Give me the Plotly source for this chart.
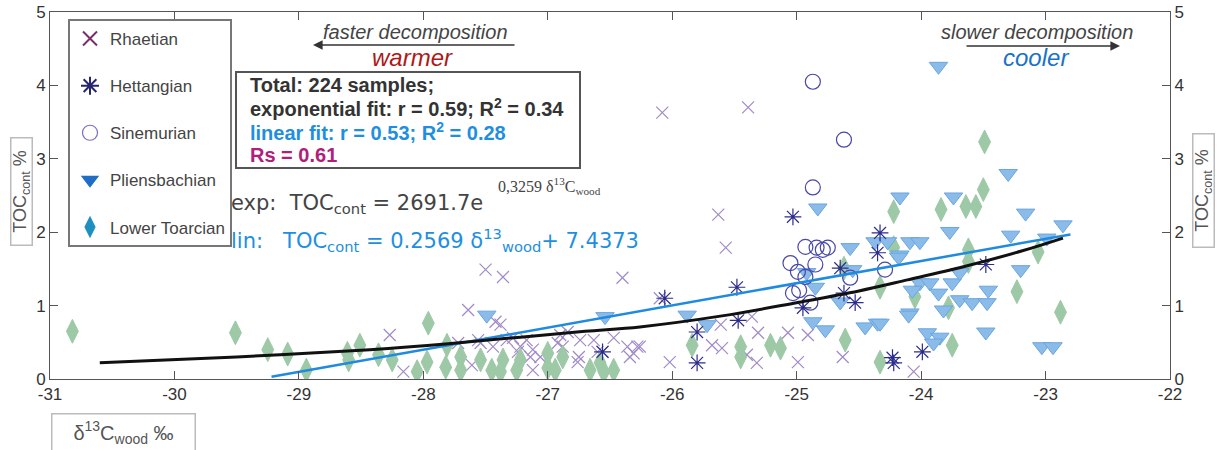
import plotly.graph_objects as go

# ---------------- data ----------------
rha_x = [-26.08, -25.39, -25.63, -25.57, -26.10, -25.36, -25.61, -25.31, -25.07, -24.91, -25.68, -25.60,
         -25.40, -25.32, -26.02, -24.99, -24.63, -26.26, -24.06, -27.50, -27.36, -27.64, -28.27, -26.40,
         -27.42, -27.38, -27.56, -27.44, -27.33, -27.28, -27.22, -27.17, -27.12, -27.14, -27.06, -26.92,
         -26.88, -26.90, -26.84, -26.74, -26.75, -26.63, -26.47, -26.36, -26.31, -26.28, -26.76, -26.56,
         -27.12, -28.16, -27.72, -27.61, -27.54, -27.24, -26.60, -26.34]
rha_y = [3.63, 3.70, 2.24, 1.79, 1.10, 0.85, 0.74, 0.63, 0.63, 0.60, 0.46, 0.42,
         0.33, 0.22, 0.23, 0.23, 0.30, 0.44, 0.10, 1.49, 1.39, 0.94, 0.60, 1.38,
         0.78, 0.74, 0.53, 0.44, 0.53, 0.56, 0.44, 0.53, 0.40, 0.30, 0.30, 0.49,
         0.44, 0.60, 0.64, 0.53, 0.30, 0.53, 0.56, 0.44, 0.35, 0.44, 0.23, 0.37,
         0.12, 0.10, 0.49, 0.19, 0.49, 0.37, 0.37, 0.30]

het_x = [-26.56, -26.06, -25.80, -25.80, -25.48, -25.47, -25.03, -24.95, -24.62, -24.65, -24.53, -24.33,
         -24.35, -24.23, -24.22, -23.99, -23.48]
het_y = [0.37, 1.10, 0.64, 0.22, 1.25, 0.80, 2.21, 0.97, 1.17, 1.51, 1.04, 1.99,
         1.72, 0.29, 0.22, 0.37, 1.56]

sin_x = [-24.87, -24.62, -24.87, -24.93, -24.84, -24.79, -24.75, -25.05, -24.99, -24.85, -24.93, -25.03,
         -24.98, -24.89, -24.57, -24.29]
sin_y = [4.05, 3.26, 2.61, 1.80, 1.79, 1.76, 1.79, 1.58, 1.46, 1.56, 1.39, 1.17,
         1.21, 1.04, 1.38, 1.49]

pli_x = [-23.86, -27.49, -26.54, -25.88, -25.72, -24.83, -24.92, -24.85, -24.87, -24.77, -24.65, -24.57,
         -24.55, -24.45, -24.35, -24.37, -24.27, -24.17, -24.09, -24.01, -24.17, -24.09, -24.01, -23.93,
         -23.95, -23.85, -23.86, -23.77, -23.74, -23.75, -23.69, -23.69, -23.30, -23.16, -22.86, -22.99,
         -23.28, -24.07, -24.10, -23.82, -23.59, -23.47, -23.46, -23.20, -23.48, -23.90, -23.03, -22.94,
         -24.33, -24.18]
pli_y = [4.26, 0.87, 0.85, 0.87, 0.74, 2.33, 1.45, 1.25, 0.78, 0.67, 1.05, 1.79,
         1.49, 0.71, 0.76, 1.87, 1.87, 2.48, 1.87, 1.87, 1.69, 0.90, 1.31, 1.31,
         0.63, 0.57, 1.17, 2.01, 2.48, 1.31, 1.45, 1.08, 2.80, 2.26, 2.10, 1.92,
         1.96, 1.21, 0.87, 0.94, 1.04, 1.04, 1.21, 1.49, 0.64, 0.49, 0.44, 0.44,
         0.76, 1.66]

toa_x = [-30.82, -29.51, -29.25, -29.09, -28.94, -28.61, -28.51, -28.60, -28.36, -28.25, -27.96, -28.05,
         -27.97, -27.81, -27.82, -27.70, -27.70, -27.54, -27.45, -27.36, -27.38, -27.25, -27.22, -27.00,
         -27.00, -26.94, -26.88, -26.66, -26.58, -26.55, -26.47, -25.84, -25.45, -25.45, -25.21, -25.13,
         -24.61, -24.33, -24.22, -24.22, -24.62, -24.33, -24.05, -23.78, -23.84, -23.64, -23.56, -23.50,
         -23.49, -23.62, -23.62, -23.75, -23.23, -23.06, -22.88]
toa_y = [0.65, 0.63, 0.40, 0.34, 0.12, 0.35, 0.46, 0.26, 0.33, 0.26, 0.76, 0.10,
         0.23, 0.46, 0.16, 0.30, 0.12, 0.26, 0.12, 0.26, 0.10, 0.12, 0.26, 0.35,
         0.15, 0.12, 0.30, 0.12, 0.22, 0.10, 0.12, 0.46, 0.44, 0.30, 0.46, 0.42,
         0.53, 0.23, 2.28, 1.79, 1.51, 1.25, 1.12, 0.97, 2.31, 2.35, 2.35, 2.58,
         3.23, 1.76, 1.60, 0.46, 1.19, 1.73, 0.91]

exp_fit_x = [-30.6, -29.5, -28.43, -27.8, -27.22, -26.7, -26.26, -25.6, -25.0, -24.5, -24.11, -23.66, -23.2, -22.86]
exp_fit_y = [0.22, 0.30, 0.40, 0.48, 0.57, 0.65, 0.71, 0.86, 1.04, 1.20, 1.35, 1.53, 1.74, 1.92]
lin_fit_x = [-29.22, -22.8]
lin_fit_y = [0.03, 1.97]

x_ticks = [-31, -30, -29, -28, -27, -26, -25, -24, -23, -22]
x_tick_labels = ["-31", "-30", "-29", "-28", "-27", "-26", "-25", "-24", "-23", "-22"]
y_ticks = [0, 1, 2, 3, 4, 5]
y_tick_labels = ["0", "1", "2", "3", "4", "5"]

# ---------------- figure ----------------
W, H = 1217, 450
L, R, T, B = 50, 47, 12, 71
PW, PH = W - L - R, H - T - B


def PX(p):
    return (p - L) / PW


def PY(p):
    return (H - B - p) / PH


FONT = "Liberation Sans, Arial, sans-serif"
NARROW = "Liberation Sans Narrow, Arial Narrow, Liberation Sans, Arial, sans-serif"
fig = go.Figure()

# data markers (no legend)
fig.add_trace(go.Scatter(x=rha_x, y=rha_y, mode="markers", showlegend=False,
                         marker=dict(symbol="x-thin", size=12, color="#a08ac8",
                                     line=dict(color="#a08ac8", width=1.2))))
fig.add_trace(go.Scatter(x=toa_x, y=toa_y, mode="markers", showlegend=False,
                         marker=dict(symbol="diamond-tall", size=17, color="#9dc9a6",
                                     line=dict(color="#9dc9a6", width=1))))
fig.add_trace(go.Scatter(x=pli_x, y=pli_y, mode="markers", showlegend=False,
                         marker=dict(symbol="triangle-down", size=16, color="#8bbbe8",
                                     line=dict(color="#6aa6e0", width=1))))
fig.add_trace(go.Scatter(x=sin_x, y=sin_y, mode="markers", showlegend=False,
                         marker=dict(symbol="circle-open", size=15, color="#4848a8",
                                     line=dict(color="#4848a8", width=1.2))))
fig.add_trace(go.Scatter(x=het_x, y=het_y, mode="markers", showlegend=False,
                         marker=dict(symbol="asterisk-open", size=14, color="#2c2c8c",
                                     line=dict(color="#2c2c8c", width=1.2))))

# fit lines
fig.add_trace(go.Scatter(x=lin_fit_x, y=lin_fit_y, mode="lines", showlegend=False,
                         line=dict(color="#1f8be0", width=2.5)))
fig.add_trace(go.Scatter(x=exp_fit_x, y=exp_fit_y, mode="lines", showlegend=False,
                         line=dict(color="#111111", width=3, shape="spline")))

# legend entries
leg = [("Rhaetian", dict(symbol="x-thin", size=14, color="#7a2e66", line=dict(color="#7a2e66", width=2))),
       ("Hettangian", dict(symbol="asterisk-open", size=15, color="#26266e", line=dict(color="#26266e", width=2))),
       ("Sinemurian", dict(symbol="circle-open", size=15, color="#7a70c8", line=dict(color="#7a70c8", width=1.2))),
       ("Pliensbachian", dict(symbol="triangle-down", size=16, color="#1f6dc4")),
       ("Lower Toarcian", dict(symbol="diamond-tall", size=16, color="#1e90c0"))]
for i, (name, mk) in enumerate(leg):
    fig.add_trace(go.Scatter(x=[None], y=[None], mode="markers", name=name, marker=mk,
                             legendgroup=f"g{i}"))

# dummy trace for right axis
fig.add_trace(go.Scatter(x=[None], y=[None], yaxis="y2", showlegend=False, hoverinfo="skip"))

axis_common = dict(showline=True, linecolor="#555", linewidth=1, ticks="inside", ticklen=8,
                   tickcolor="#555", tickfont=dict(family=NARROW, size=17, color="#333"),
                   showgrid=False, zeroline=False, automargin=False)
fig.update_layout(
    width=W, height=H, margin=dict(l=L, r=R, t=T, b=B, autoexpand=False),
    paper_bgcolor="white", plot_bgcolor="white",
    xaxis=dict(range=[-31, -22], tickvals=x_ticks, ticktext=x_tick_labels, mirror="ticks", **axis_common),
    yaxis=dict(range=[0, 5], tickvals=y_ticks, ticktext=y_tick_labels, mirror=True, **axis_common),
    yaxis2=dict(range=[0, 5], tickvals=y_ticks, ticktext=y_tick_labels, overlaying="y", side="right",
                **axis_common),
    legend=dict(x=PX(68), y=PY(19), xanchor="left", yanchor="top", bgcolor="white",
                bordercolor="#777", borderwidth=2, tracegroupgap=22, itemwidth=30,
                font=dict(family=FONT, size=17, color="#444")),
    showlegend=True,
)

ann = []


def text(px, py, s, size, color, anchor="left", family=FONT, **kw):
    ann.append(dict(x=PX(px), y=PY(py), xref="paper", yref="paper", text=s, showarrow=False,
                    xanchor=anchor, yanchor="middle", font=dict(family=family, size=size, color=color), **kw))


# statistics box
fig.add_shape(type="rect", xref="paper", yref="paper", x0=PX(236), x1=PX(580), y0=PY(168), y1=PY(72),
              line=dict(color="#555", width=2), fillcolor="rgba(0,0,0,0)")
text(248, 85, "<b>Total: 224 samples;</b>", 20, "#333")
text(248, 108, "<b>exponential fit: r = 0.59; R<sup>2</sup> = 0.34</b>", 20, "#333")
text(248, 131, "<b>linear fit: r = 0.53; R<sup>2</sup> = 0.28</b>", 20, "#1e8fe0")
text(248, 155, "<b>Rs = 0.61</b>", 20, "#b0207a")

# equations
text(229, 204, "exp:\u00a0\u00a0TOC<sub>cont</sub> = 2691.7e", 21, "#444", family="DejaVu Sans, Verdana, sans-serif")
text(496, 186, "0,3259 \u03b4<sup>13</sup>C<sub>wood</sub>", 16, "#444", family="Liberation Serif, Times New Roman, serif")
text(229, 240, "lin:\u00a0\u00a0\u00a0TOC<sub>cont</sub> = 0.2569 \u03b4<sup>13</sup><sub>wood</sub>+ 7.4373", 21, "#1e8fe0",
     family="DejaVu Sans, Verdana, sans-serif")

# decomposition arrows
text(415, 32, "<i>faster decomposition</i>", 20, "#444", anchor="center")
text(412, 58, "<i>warmer</i>", 24, "#b01818", anchor="center")
text(1037, 32, "<i>slower decomposition</i>", 20, "#444", anchor="center")
text(1036, 58, "<i>cooler</i>", 24, "#1a72c8", anchor="center")
ann.append(dict(x=PX(313), y=PY(45), ax=516 - 313, ay=0, xref="paper", yref="paper", axref="pixel",
                ayref="pixel", text="", showarrow=True, arrowhead=2, arrowsize=1.2, arrowwidth=1.6,
                arrowcolor="#333"))
ann.append(dict(x=PX(1120), y=PY(46), ax=965 - 1120, ay=0, xref="paper", yref="paper", axref="pixel",
                ayref="pixel", text="", showarrow=True, arrowhead=2, arrowsize=1.2, arrowwidth=1.6,
                arrowcolor="#333"))

# axis titles in boxes
ann.append(dict(x=PX(123), y=PY(432), xref="paper", yref="paper", showarrow=False,
                text="\u03b4<sup>13</sup>C<sub>wood</sub> \u2030", xanchor="center", yanchor="middle",
                font=dict(family=FONT, size=20, color="#555"), width=140, height=34,
                bordercolor="#bbb", borderwidth=1.5, bgcolor="white"))
ann.append(dict(x=PX(21), y=PY(192), xref="paper", yref="paper", showarrow=False, textangle=-90,
                text="TOC<sub>cont</sub> %", xanchor="center", yanchor="middle",
                font=dict(family=FONT, size=18, color="#555"), bordercolor="#bbb", borderwidth=1.5,
                width=104, height=18, bgcolor="white"))
ann.append(dict(x=PX(1204), y=PY(190), xref="paper", yref="paper", showarrow=False, textangle=-90,
                text="TOC<sub>cont</sub> %", xanchor="center", yanchor="middle",
                font=dict(family=FONT, size=18, color="#555"), bordercolor="#bbb", borderwidth=1.5,
                width=110, height=18, bgcolor="white"))

fig.update_layout(annotations=ann)
fig.write_html("out.html", config={"displayModeBar": False},
               post_script="document.body.style.margin='0';document.body.style.overflow='hidden';")
